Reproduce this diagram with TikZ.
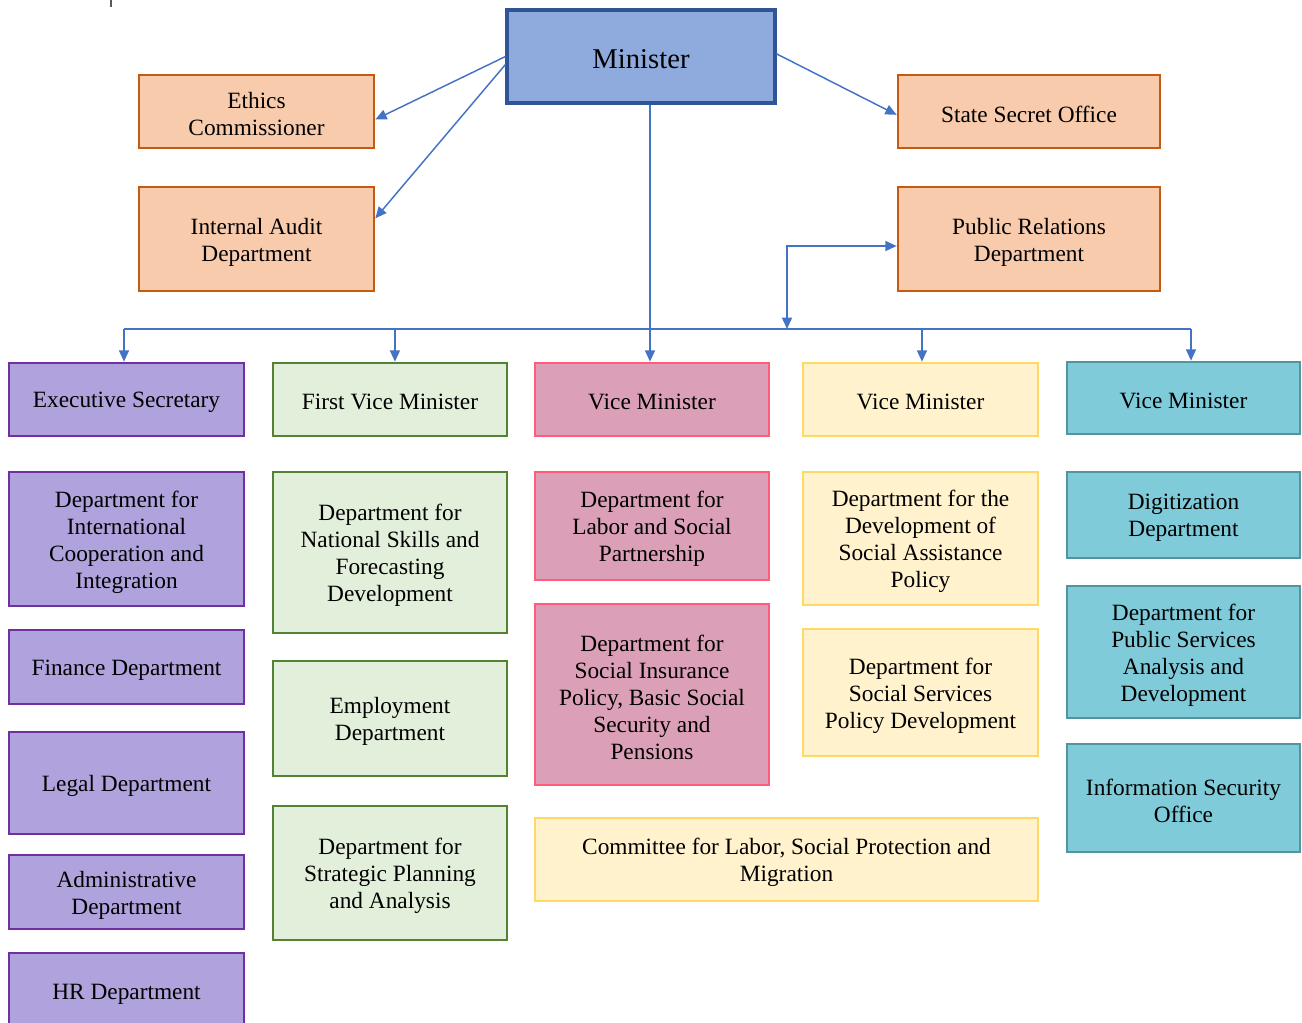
\documentclass[tikz,border=0pt]{standalone}
\usepackage{fontspec}
\setmainfont{Liberation Serif}
\usetikzlibrary{arrows.meta}
\definecolor{arrowblue}{HTML}{4472C4}
\definecolor{minfill}{HTML}{8FAADC}\definecolor{mindraw}{HTML}{2F5597}
\definecolor{orfill}{HTML}{F8CBAD}\definecolor{ordraw}{HTML}{C55A11}
\definecolor{pufill}{HTML}{B0A2DC}\definecolor{pudraw}{HTML}{7030A0}
\definecolor{grfill}{HTML}{E2EFDA}\definecolor{grdraw}{HTML}{548235}
\definecolor{pifill}{HTML}{DBA0B7}\definecolor{pidraw}{HTML}{FF5C7C}
\definecolor{yefill}{HTML}{FFF2CC}\definecolor{yedraw}{HTML}{FFD966}
\definecolor{cyfill}{HTML}{7FCBD9}\definecolor{cydraw}{HTML}{53959F}
\newcommand\orgbox[7]{%
  \node[#1, minimum width={(#4-#2)*0.75pt}, minimum height={(#5-#3)*0.75pt}] (#6) at ({(#2+#4)/2},{(#3+#5)/2}) {};
  \node[txt, font=\csname #1font\endcsname] at ([yshift=-2.2pt]#6.center) {#7};}
\newcommand\minboxfont{\fontsize{21.5}{25}\selectfont}
\newcommand\stdfont{\fontsize{17.5}{20.3}\selectfont}
\let\orboxfont\stdfont \let\puboxfont\stdfont \let\grboxfont\stdfont
\let\piboxfont\stdfont \let\yeboxfont\stdfont \let\cyboxfont\stdfont
\begin{document}
\begin{tikzpicture}[x=0.75pt,y=-0.75pt,
  base/.style={rectangle, inner sep=0pt, line width=2pt},
  txt/.style={inner sep=0pt, align=center},
  minbox/.style={base, fill=minfill, draw=mindraw, line width=2.3pt},
  orbox/.style={base, fill=orfill, draw=ordraw},
  pubox/.style={base, fill=pufill, draw=pudraw},
  grbox/.style={base, fill=grfill, draw=grdraw},
  pibox/.style={base, fill=pifill, draw=pidraw},
  yebox/.style={base, fill=yefill, draw=yedraw},
  cybox/.style={base, fill=cyfill, draw=cydraw},
  conn/.style={draw=arrowblue, line width=1.1pt},
  arr/.style={conn, -{Triangle[length=8.5pt,width=7.5pt]}},
  darr/.style={conn, {Triangle[length=8.5pt,width=7.5pt]}-{Triangle[length=8.5pt,width=7.5pt]}}]
\clip (0,0) rectangle (1302,1023);
\fill[white] (0,0) rectangle (1302,1023);
\draw[gray!70!black, line width=0.8pt] (111,0) -- (111,7);
% top level
\orgbox{minbox}{507}{10}{775}{103}{min}{Minister}
\orgbox{orbox}{139}{75}{374}{148}{eth}{Ethics\\Commissioner}
\orgbox{orbox}{139}{187}{374}{291}{aud}{Internal Audit\\Department}
\orgbox{orbox}{898}{75}{1160}{148}{sso}{State Secret Office}
\orgbox{orbox}{898}{187}{1160}{291}{pr}{Public Relations\\Department}
% second row
\orgbox{pubox}{9}{363}{244}{436}{es}{Executive Secretary}
\orgbox{grbox}{273}{363}{507}{436}{fvm}{First Vice Minister}
\orgbox{pibox}{535}{363}{769}{436}{vmp}{Vice Minister}
\orgbox{yebox}{803}{363}{1038}{436}{vmy}{Vice Minister}
\orgbox{cybox}{1067}{362}{1300}{434}{vmc}{Vice Minister}
% column 1
\orgbox{pubox}{9}{472}{244}{606}{p1}{Department for\\International\\Cooperation and\\Integration}
\orgbox{pubox}{9}{630}{244}{704}{p2}{Finance Department}
\orgbox{pubox}{9}{732}{244}{834}{p3}{Legal Department}
\orgbox{pubox}{9}{855}{244}{929}{p4}{Administrative\\Department}
\orgbox{pubox}{9}{953}{244}{1029}{p5}{HR Department}
% column 2
\orgbox{grbox}{273}{472}{507}{633}{g1}{Department for\\National Skills and\\Forecasting\\Development}
\orgbox{grbox}{273}{661}{507}{776}{g2}{Employment\\Department}
\orgbox{grbox}{273}{806}{507}{940}{g3}{Department for\\Strategic Planning\\and Analysis}
% column 3
\orgbox{pibox}{535}{472}{769}{580}{k1}{Department for\\Labor and Social\\Partnership}
\orgbox{pibox}{535}{604}{769}{785}{k2}{Department for\\Social Insurance\\Policy, Basic Social\\Security and\\Pensions}
% column 4
\orgbox{yebox}{803}{472}{1038}{605}{y1}{Department for the\\Development of\\Social Assistance\\Policy}
\orgbox{yebox}{803}{629}{1038}{756}{y2}{Department for\\Social Services\\Policy Development}
\orgbox{yebox}{535}{818}{1038}{901}{com}{Committee for Labor, Social Protection and\\Migration}
% column 5
\orgbox{cybox}{1067}{472}{1300}{558}{c1}{Digitization\\Department}
\orgbox{cybox}{1067}{586}{1300}{718}{c2}{Department for\\Public Services\\Analysis and\\Development}
\orgbox{cybox}{1067}{744}{1300}{852}{c3}{Information Security\\Office}
% connectors
\coordinate (busL) at (124,329);
\coordinate (busR) at (1191,329);
\coordinate (busPR) at (787,329);
\draw[arr] (min.west) -- ([yshift=-6pt]eth.east);
\draw[arr] ([yshift=-6pt]min.west) -- ([yshift=15.5pt]aud.east);
\draw[arr] ([yshift=2pt]min.east) -- ([yshift=-2.5pt]sso.west);
\draw[arr] ([xshift=6.75pt]min.south) -- ([xshift=6.75pt]min.south |- vmp.north);
\draw[conn] (busL) -- (busR);
\draw[arr] (busL) -- (busL |- es.north);
\draw[arr] ([xshift=3.7pt]fvm.north |- busL) -- ([xshift=3.7pt]fvm.north);
\draw[arr] ([xshift=1.1pt]vmy.north |- busL) -- ([xshift=1.1pt]vmy.north);
\draw[arr] (busR) -- (busR |- vmc.north);
\draw[darr] ([yshift=-5.25pt]pr.west) -| (busPR);
\end{tikzpicture}
\end{document}
